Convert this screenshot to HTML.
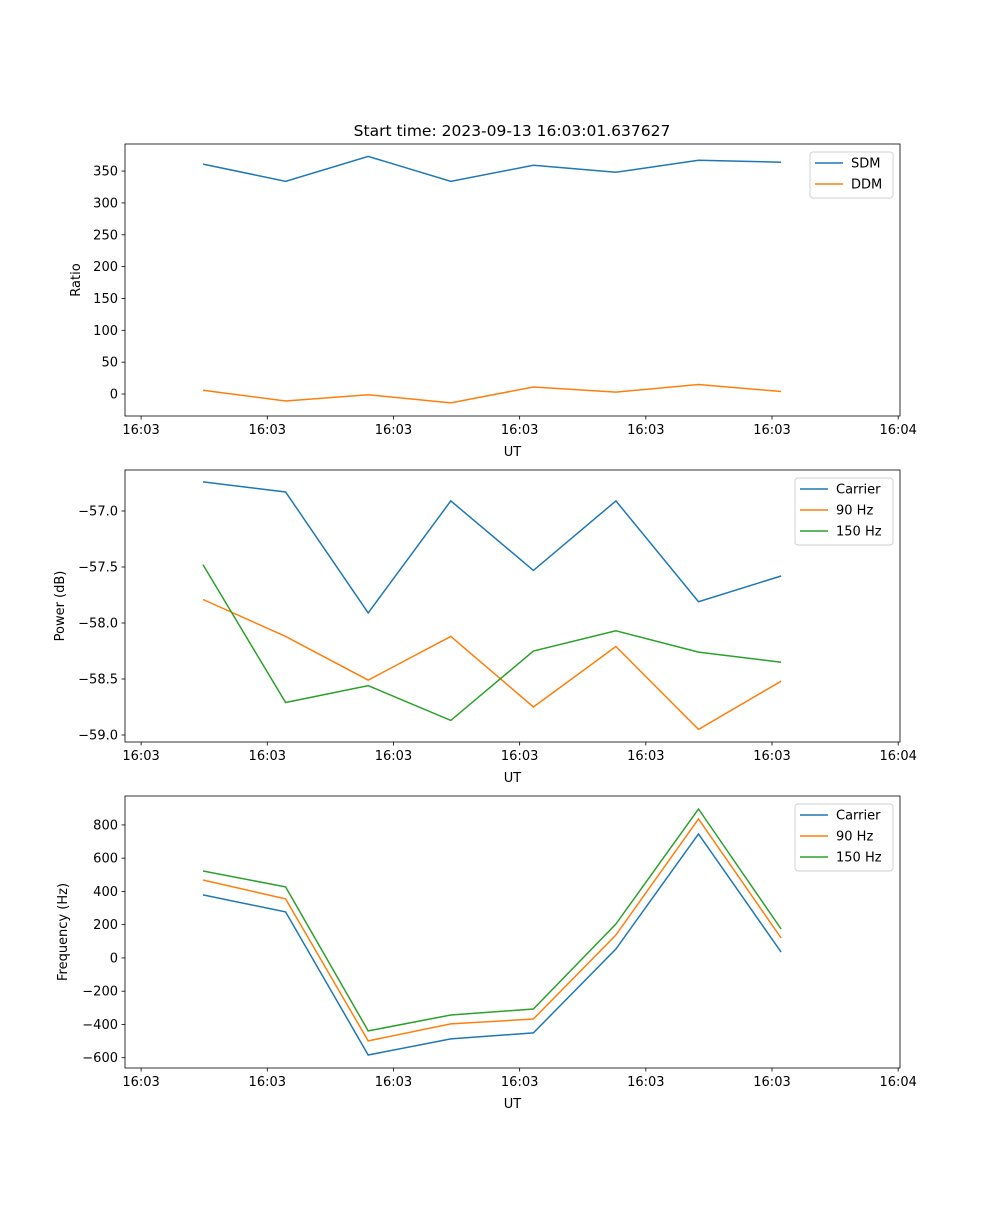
<!DOCTYPE html>
<html><head><meta charset="utf-8"><style>
body{margin:0;background:#fff;font-family:"Liberation Sans","DejaVu Sans",sans-serif;}
svg text{font-family:"DejaVu Sans","Liberation Sans",sans-serif;fill:#000;}
</style></head><body>
<svg id="fig" width="1000" height="1200" xmlns="http://www.w3.org/2000/svg"></svg>
<script>
const xTickLabels=["16:03","16:03","16:03","16:03","16:03","16:03","16:04"];
const sdm=[361,334,373,334,359,348,367,364];
const ddm=[6,-11,-1,-14,11,3,15,4];
const pCarrier=[-56.74,-56.83,-57.91,-56.91,-57.53,-56.91,-57.81,-57.58];
const p90=[-57.79,-58.12,-58.51,-58.12,-58.75,-58.21,-58.95,-58.52];
const p150=[-57.48,-58.71,-58.56,-58.87,-58.25,-58.07,-58.26,-58.35];
const fCarrier=[379,277,-584,-487,-451,54,746,35];
const f90=[469,355,-499,-397,-367,138,836,120];
const f150=[523,427,-439,-343,-307,204,896,174];
const ticks1=[0,50,100,150,200,250,300,350];
const ticks2=[-59.0,-58.5,-58.0,-57.5,-57.0];
const ticks3=[-600,-400,-200,0,200,400,600,800];

const svg=document.getElementById('fig');
const NS='http://www.w3.org/2000/svg';
function mk(t,a,p){const e=document.createElementNS(NS,t);for(const k in a)e.setAttribute(k,a[k]);(p||svg).appendChild(e);return e;}
const L=125,R=900,XMIN=-0.945,XMAX=8.44;
const xs=i=>L+(i-XMIN)/(XMAX-XMIN)*(R-L);
const colors=["#1f77b4","#ff7f0e","#2ca02c"];

function panel(name,top,bot,ymin,ymax,yticks,fmt,ylabel,series,names,legend){
  const g=mk('g',{});
  
  
  const ys=v=>bot-(v-ymin)/(ymax-ymin)*(bot-top);
  series.forEach((s,k)=>{
    const pts=s.map((v,i)=>xs(i).toFixed(1)+','+ys(v).toFixed(1)).join(' ');
    const pl=mk('polyline',{points:pts,fill:'none',stroke:colors[k],'stroke-width':1.5},g);
    
    
  });
  mk('rect',{x:L,y:top,width:R-L,height:bot-top,fill:'none',stroke:'#000','stroke-width':0.8},g);
  yticks.forEach(v=>{
    const y=ys(v);
    mk('line',{x1:L-3.5,x2:L,y1:y,y2:y,stroke:'#000','stroke-width':0.8},g);
    const t=mk('text',{x:L-7,y:y+4.5,'text-anchor':'end','font-size':13},g);
    t.textContent=fmt(v);
    
    
  });
  xTickLabels.forEach((lab,k)=>{
    const x=xs(-0.75+k*1.528);
    mk('line',{x1:x,x2:x,y1:bot,y2:bot+3.5,stroke:'#000','stroke-width':0.8},g);
    const t=mk('text',{x:x,y:bot+18,'text-anchor':'middle','font-size':13},g);
    t.textContent=lab;
    
    
  });
  const xl=mk('text',{x:(L+R)/2,y:bot+40,'text-anchor':'middle','font-size':13},g);
  xl.textContent='UT';
  
  
  const cy=(top+bot)/2;
  const yl=mk('text',{x:0,y:0,'text-anchor':'middle','font-size':13,transform:`translate(${legend.ylx},${cy}) rotate(-90)`},g);
  yl.textContent=ylabel;
  
  
  const lg=mk('g',{},g);
  
  
  mk('rect',{x:legend.x,y:top+8,width:R-7-legend.x,height:names.length*21+4,rx:3,fill:'#fff',stroke:'#ccc','stroke-width':1,opacity:0.9},lg);
  names.forEach((n,k)=>{
    const y=top+19+k*21;
    mk('line',{x1:legend.x+5,x2:legend.x+33,y1:y,y2:y,stroke:colors[k],'stroke-width':1.5},lg);
    const t=mk('text',{x:legend.x+41,y:y+4.5,'font-size':13},lg);
    t.textContent=n;
    
    
  });
}
const title=mk('text',{x:512,y:136,'text-anchor':'middle','font-size':15.5});
title.textContent='Start time: 2023-09-13 16:03:01.637627';


panel('ratio-panel',144,416,-34.5,392.5,ticks1,v=>String(v).replace('-','−'),'Ratio',[sdm,ddm],['SDM','DDM'],{x:810,ylx:80});
panel('power-panel',470,742,-59.0625,-56.634,ticks2,v=>v.toFixed(1).replace('-','−'),'Power (dB)',[pCarrier,p90,p150],['Carrier','90 Hz','150 Hz'],{x:795,ylx:64});
panel('frequency-panel',796,1068,-662,974,ticks3,v=>String(v).replace('-','−'),'Frequency (Hz)',[fCarrier,f90,f150],['Carrier','90 Hz','150 Hz'],{x:795,ylx:67});
</script>
</body></html>
